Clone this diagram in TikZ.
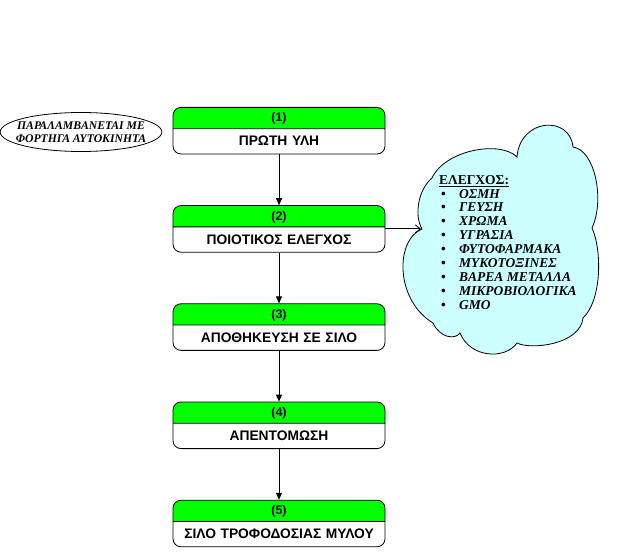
\documentclass[tikz,border=0pt]{standalone}
\usepackage{fontspec}
\setmainfont{Liberation Serif}
\setsansfont{Liberation Sans}
\usetikzlibrary{shapes.multipart}
\usetikzlibrary{arrows.meta, positioning, shapes.geometric}

\definecolor{stepgreen}{RGB}{0,255,0}
\definecolor{cloudblue}{RGB}{204,255,255}

\newcommand{\numstrut}{\rule[-6.3pt]{0pt}{20.5pt}}
\newcommand{\namestrut}{\rule[-7.6pt]{0pt}{24.5pt}}
\newcommand{\blt}{\hspace*{2pt}\makebox[18pt][l]{\textbullet}}

\begin{document}
\begin{tikzpicture}[
        x=1pt, y=-1pt,
        stepbox/.style={rectangle split, rectangle split parts=2, draw, line width=0.8pt,
            rounded corners=8pt, rectangle split part fill={stepgreen,white},
            text width=212pt, inner xsep=0pt, inner ysep=0pt, align=center,
            font=\sffamily\bfseries\fontsize{13.8}{15}\selectfont},
        flow/.style={-{Triangle[length=7pt,width=6pt]}, line width=0.8pt}
    ]
        \useasboundingbox (0,0) rectangle (640,553);

        % βήματα
        \node[stepbox, anchor=north] (s1) at (279,107)
            {\numstrut{\fontsize{12.5}{14}\selectfont(1)}\nodepart{two}\namestrut ΠΡΩΤΗ ΥΛΗ};
        \node[stepbox, below=50.8pt of s1] (s2)
            {\numstrut{\fontsize{12.5}{14}\selectfont(2)}\nodepart{two}\namestrut ΠΟΙΟΤΙΚΟΣ ΕΛΕΓΧΟΣ};
        \node[stepbox, below=50.8pt of s2] (s3)
            {\numstrut{\fontsize{12.5}{14}\selectfont(3)}\nodepart{two}\namestrut ΑΠΟΘΗΚΕΥΣΗ ΣΕ ΣΙΛΟ};
        \node[stepbox, below=50.8pt of s3] (s4)
            {\numstrut{\fontsize{12.5}{14}\selectfont(4)}\nodepart{two}\namestrut ΑΠΕΝΤΟΜΩΣΗ};
        \node[stepbox, below=50.8pt of s4] (s5)
            {\numstrut{\fontsize{12.5}{14}\selectfont(5)}\nodepart{two}\namestrut ΣΙΛΟ ΤΡΟΦΟΔΟΣΙΑΣ ΜΥΛΟΥ};

        % παραλαβή
        \node[ellipse, draw, line width=0.8pt, minimum width=158pt, minimum height=39pt,
            inner xsep=-8pt, inner ysep=0pt, align=center,
            font=\bfseries\itshape\fontsize{11.7}{12.5}\selectfont]
            (trucks) at (81,132) {ΠΑΡΑΛΑΜΒΑΝΕΤΑΙ ΜΕ\\ΦΟΡΤΗΓΑ ΑΥΤΟΚΙΝΗΤΑ};

        % σύννεφο ελέγχων
        \draw[fill=cloudblue, line width=0.8pt] (422,229)
            .. controls (414,215) and (418,190) .. (432,178)
            .. controls (445,150) and (500,140) .. (517,157)
            .. controls (520,118) and (570,115) .. (573,147)
            .. controls (595,150) and (605,200) .. (592,228)
            .. controls (602,250) and (602,300) .. (583,318)
            .. controls (580,345) and (530,350) .. (517,343)
            .. controls (505,360) and (470,358) .. (460,333)
            .. controls (455,340) and (440,338) .. (433,323)
            .. controls (395,300) and (395,240) .. cycle;
        \coordinate (cloudtip) at (421,229);
        \node[anchor=north west, inner sep=0pt, align=left,
            font=\bfseries\fontsize{13.5}{13.9}\selectfont] (checks) at (439,175)
            {\underline{ΕΛΕΓΧΟΣ:}\\
             \blt\textit{ΟΣΜΗ}\\
             \blt\textit{ΓΕΥΣΗ}\\
             \blt\textit{ΧΡΩΜΑ}\\
             \blt\textit{ΥΓΡΑΣΙΑ}\\
             \blt\textit{ΦΥΤΟΦΑΡΜΑΚΑ}\\
             \blt\textit{ΜΥΚΟΤΟΞΙΝΕΣ}\\
             \blt\textit{ΒΑΡΕΑ ΜΕΤΑΛΛΑ}\\
             \blt\textit{ΜΙΚΡΟΒΙΟΛΟΓΙΚΑ}\\
             \blt\textit{GMO}};

        % βέλη
        \draw[flow] (s1.south) -- (s2.north);
        \draw[flow] (s2.south) -- (s3.north);
        \draw[flow] (s3.south) -- (s4.north);
        \draw[flow] (s4.south) -- (s5.north);
        \draw[-{Straight Barb[length=5pt,width=8pt]}, line width=0.8pt]
            (s2.east) -- (s2.east -| cloudtip);
    \end{tikzpicture}
\end{document}
